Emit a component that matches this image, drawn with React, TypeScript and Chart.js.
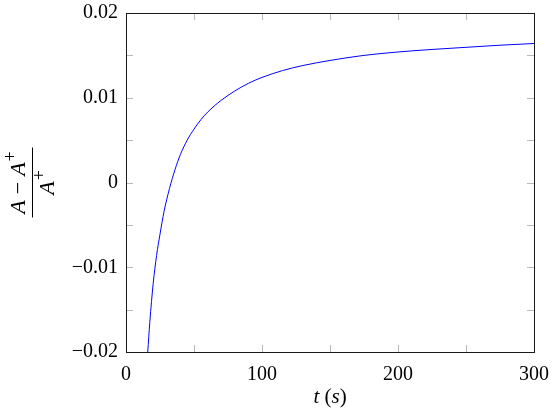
import React, { useEffect, useRef } from 'react';
import { Chart, registerables } from 'chart.js';

Chart.register(...registerables);

// Data
const tValues = [16, 17.5, 20, 22.5, 25, 28, 32, 36, 40, 45, 50, 55, 60, 70, 80, 90, 100, 115, 130, 150, 175, 200, 225, 250, 275, 300];
const relDiff = [-0.02, -0.0165, -0.0119, -0.0086, -0.0061, -0.0034, -0.0007, 0.0015, 0.0033, 0.005, 0.0063, 0.0074, 0.0083, 0.0097, 0.0108, 0.0117, 0.0124, 0.0132, 0.0138, 0.0144, 0.015, 0.0154, 0.0157, 0.01595, 0.0162, 0.0164];

const xTicks = [0, 100, 200, 300];
const xTickLabels = ['0', '100', '200', '300'];
const yTicks = [-0.02, -0.01, 0, 0.01, 0.02];
const yTickLabels = ['\u22120.02', '\u22120.01', '0', '0.01', '0.02'];
const xMarkTicks = [0, 50, 100, 150, 200, 250, 300];
const yMarkTicks = [-0.02, -0.015, -0.01, -0.005, 0, 0.005, 0.01, 0.015, 0.02];

const SERIF = '"Liberation Serif", "DejaVu Serif", serif';

type Piece = { t: string; italic?: boolean; sup?: boolean; gapBefore?: number };

function drawPieces(ctx: CanvasRenderingContext2D, pieces: Piece[], cx: number, baseY: number, size: number) {
  const supSize = Math.round(size * 0.82);
  const fontOf = (p: Piece) => `${p.italic ? 'italic ' : ''}${p.sup ? supSize : size}px ${SERIF}`;
  let total = 0;
  const widths = pieces.map((p) => {
    ctx.font = fontOf(p);
    const w = ctx.measureText(p.t).width;
    total += w + (p.gapBefore || 0);
    return w;
  });
  let x = cx - total / 2;
  ctx.textAlign = 'left';
  ctx.textBaseline = 'alphabetic';
  pieces.forEach((p, i) => {
    x += p.gapBefore || 0;
    ctx.font = fontOf(p);
    ctx.fillText(p.t, x, p.sup ? baseY - size * 0.4 : baseY);
    x += widths[i];
  });
}

const decorPlugin = {
  id: 'decor',
  afterDraw(chart: any) {
    const { ctx, chartArea: a, scales } = chart;
    const xs = scales.x;
    const ys = scales.y;
    ctx.save();
    // inward tick marks on all four sides
    ctx.strokeStyle = '#b9b9b9';
    ctx.lineWidth = 1;
    const L = 7;
    ctx.beginPath();
    for (const v of xMarkTicks) {
      const px = Math.round(xs.getPixelForValue(v)) + 0.5;
      ctx.moveTo(px, a.bottom);
      ctx.lineTo(px, a.bottom - L);
      ctx.moveTo(px, a.top);
      ctx.lineTo(px, a.top + L);
    }
    for (const v of yMarkTicks) {
      const py = Math.round(ys.getPixelForValue(v)) + 0.5;
      ctx.moveTo(a.left, py);
      ctx.lineTo(a.left + L, py);
      ctx.moveTo(a.right, py);
      ctx.lineTo(a.right - L, py);
    }
    ctx.stroke();
    // frame
    ctx.strokeStyle = '#1a1a1a';
    ctx.lineWidth = 1;
    ctx.strokeRect(a.left + 0.5, a.top + 0.5, a.right - a.left, a.bottom - a.top);

    ctx.fillStyle = '#000';
    // x-axis title: t (s)
    drawPieces(
      ctx,
      [
        { t: 't', italic: true },
        { t: ' (' },
        { t: 's', italic: true },
        { t: ')' },
      ],
      (a.left + a.right) / 2,
      403,
      21
    );

    // y-axis title: fraction (A − A+)/A+
    const cy = (a.top + a.bottom) / 2;
    ctx.translate(32.5, cy);
    ctx.rotate(-Math.PI / 2);
    ctx.strokeStyle = '#000';
    ctx.beginPath();
    ctx.moveTo(-35, 0);
    ctx.lineTo(35, 0);
    ctx.stroke();
    drawPieces(
      ctx,
      [
        { t: 'A', italic: true },
        { t: '\u2212', gapBefore: 6 },
        { t: 'A', italic: true, gapBefore: 6 },
        { t: '+', sup: true, gapBefore: 1 },
      ],
      0,
      -8,
      22
    );
    drawPieces(
      ctx,
      [
        { t: 'A', italic: true },
        { t: '+', sup: true, gapBefore: 1 },
      ],
      0,
      21,
      22
    );
    ctx.restore();
  },
};

export default function App() {
  const ref = useRef<HTMLCanvasElement | null>(null);

  useEffect(() => {
    if (!ref.current) return;
    const chart = new Chart(ref.current, {
      type: 'line',
      data: {
        datasets: [
          {
            data: tValues.map((t, i) => ({ x: t, y: relDiff[i] })),
            borderColor: '#0000ff',
            borderWidth: 1,
            pointRadius: 0,
            fill: false,
            cubicInterpolationMode: 'monotone',
          },
        ],
      },
      options: {
        animation: false,
        responsive: false,
        devicePixelRatio: 1,
        layout: { padding: { left: 0, top: 13, right: 23, bottom: 0 } },
        plugins: { legend: { display: false }, tooltip: { enabled: false } },
        scales: {
          x: {
            type: 'linear',
            min: 0,
            max: 300,
            grid: { display: false, drawTicks: false, tickLength: 0 },
            border: { display: false },
            afterBuildTicks: (s: any) => {
              s.ticks = xTicks.map((v) => ({ value: v }));
            },
            afterFit: (s: any) => {
              s.height = 64;
              s.paddingLeft = 0;
              s.paddingRight = 0;
            },
            ticks: {
              autoSkip: false,
              maxRotation: 0,
              padding: 11,
              color: '#000',
              font: { family: SERIF, size: 20 },
              callback: (v: any) => {
                const i = xTicks.indexOf(Number(v));
                return i >= 0 ? xTickLabels[i] : '';
              },
            },
          },
          y: {
            type: 'linear',
            min: -0.02,
            max: 0.02,
            grid: { display: false, drawTicks: false, tickLength: 0 },
            border: { display: false },
            afterBuildTicks: (s: any) => {
              s.ticks = yTicks.map((v) => ({ value: v }));
            },
            afterFit: (s: any) => {
              s.width = 126;
              s.paddingTop = 0;
              s.paddingBottom = 0;
            },
            ticks: {
              autoSkip: false,
              padding: 8,
              color: '#000',
              font: { family: SERIF, size: 20 },
              callback: (v: any) => {
                const i = yTicks.findIndex((t) => Math.abs(t - Number(v)) < 1e-9);
                return i >= 0 ? yTickLabels[i] : '';
              },
            },
          },
        },
      },
      plugins: [decorPlugin],
    } as any);
    return () => chart.destroy();
  }, []);

  return (
    <div style={{ position: 'absolute', left: 0, top: 0, width: 557, height: 416, background: '#fff' }}>
      <canvas ref={ref} width={557} height={416} style={{ display: 'block', width: 557, height: 416 }} />
    </div>
  );
}
